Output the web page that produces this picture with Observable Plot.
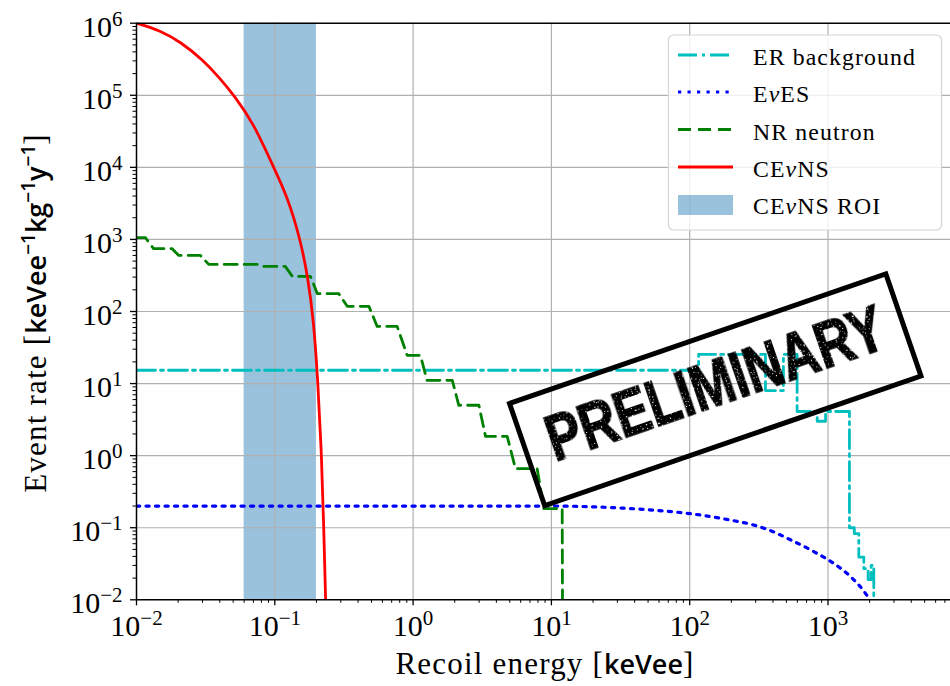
<!DOCTYPE html>
<html>
<head>
<meta charset="utf-8">
<script src="https://cdn.jsdelivr.net/npm/d3@7"></script>
<script src="https://cdn.jsdelivr.net/npm/@observablehq/plot@0.6"></script>
<style>
  html, body { margin: 0; padding: 0; background: #fff; overflow: hidden; }
  #chart svg { display: block; }
</style>
</head>
<body>
<div id="chart"></div>
<script>
// ---- axis ticks -----------------------------------------------------------
const xDecades = [1e-2, 1e-1, 1e0, 1e1, 1e2, 1e3];
const yDecades = [1e-2, 1e-1, 1e0, 1e1, 1e2, 1e3, 1e4, 1e5, 1e6];
const xDomain = [1e-2, 8e3];
const yDomain = [1e-2, 1e6];

// ---- CEνNS region of interest (keVee) --------------------------------------
const roiRange = [0.06, 0.2];

// ---- CEνNS spectrum ---------------------------------------------------------
const cevnsEnergy = [0.010, 0.0149, 0.0208, 0.0302, 0.0404, 0.0506, 0.0702, 0.098, 0.1235, 0.153, 0.173, 0.191, 0.205, 0.218, 0.226, 0.233];
const cevnsRate   = [1.0e6, 7.9e5, 5.5e5, 3.1e5, 1.7e5, 1.0e5, 4.1e4, 1.0e4, 3.9e3, 1.0e3, 307, 75, 10.5, 1.0, 0.1, 0.01];

// ---- EνES spectrum ----------------------------------------------------------
const evesEnergy = [0.01, 1, 10, 20, 55, 100, 200, 275, 363, 535, 800, 1100, 1455, 1800, 2000];
const evesRate   = [0.2, 0.2, 0.2, 0.195, 0.175, 0.157, 0.127, 0.112, 0.095, 0.068, 0.046, 0.032, 0.021, 0.0135, 0.0101];

// ---- ER background, histogram (bin left edges and levels) -------------------
const erEdges  = [0.01, 116, 353, 476, 598, 835, 960, 1429, 1550, 1670, 1816, 1950, 2050, 2143];
const erLevels = [15.3, 25.4, 8.0, 25.4, 4.1, 3.0, 4.1, 0.10, 0.083, 0.039, 0.027, 0.019, 0.03, 0.01];

// ---- NR neutron background, polyline vertices -------------------------------
const nrEnergy = [0.01, 0.0116, 0.0133, 0.0181, 0.0202, 0.029, 0.0333, 0.0766, 0.0832, 0.119, 0.134, 0.181, 0.203, 0.29, 0.334, 0.479, 0.55, 0.767, 0.906, 1.13, 1.26, 1.92, 2.14, 2.99, 3.34, 4.79, 5.5, 7.89, 8.81, 11.97, 12.03];
const nrRate   = [1057, 1057, 743, 743, 600, 600, 450, 450, 422, 422, 307, 307, 177, 177, 118, 118, 62, 62, 24.6, 24.6, 11.1, 11.1, 5.0, 5.0, 1.85, 1.85, 0.66, 0.66, 0.184, 0.184, 0.01];

// ---- legend -----------------------------------------------------------------
const legendLabels = [
  [["ER background", false]],
  [["E", false], ["ν", true], ["ES", false]],
  [["NR neutron", false]],
  [["CE", false], ["ν", true], ["NS", false]],
  [["CE", false], ["ν", true], ["NS ROI", false]]
];

(function draw() {
  const serif = "'Liberation Serif', 'Times New Roman', serif";
  const sans = "'Open Sans', 'DejaVu Sans', sans-serif";
  const colors = {er: "#00bfbf", eves: "#0000ff", nr: "#008000", cevns: "#ff0000", roi: "#1f77b4"};
  const dashes = {er: "19,5,3,5", eves: "3.2,6.3", nr: "13,7"};
  const lineWidth = 2.8;

  const W = 950, H = 686;
  const frameLeft = 136, frameTop = 22.7, frameBottom = 599.3;
  const pxPerDecadeX = 138.3;
  const frameRight = frameLeft + pxPerDecadeX * Math.log10(xDomain[1] / xDomain[0]);

  const rows = (E, R) => E.map((e, i) => ({E: e, R: R[i]}));
  const minorTicks = (decades, max) =>
    decades.flatMap(d => [2, 3, 4, 5, 6, 7, 8, 9].map(k => k * d)).filter(v => v <= max);
  const exponent = d => {
    const e = Math.round(Math.log10(d));
    return e < 0 ? "\u2212" + (-e) : String(e);
  };

  const chart = Plot.plot({
    width: W,
    height: H,
    marginLeft: frameLeft,
    marginRight: 0,
    marginTop: frameTop,
    marginBottom: H - frameBottom,
    style: {fontFamily: serif, background: "#fff", overflow: "hidden", color: "#000"},
    x: {type: "log", domain: xDomain, range: [frameLeft, frameRight]},
    y: {type: "log", domain: yDomain, range: [frameBottom, frameTop]},
    marks: [
      // shaded ROI band
      Plot.rect([roiRange], {x1: d => d[0], x2: d => d[1], fill: colors.roi, fillOpacity: 0.45}),
      // grid
      Plot.ruleX(xDecades.slice(1), {stroke: "#b0b0b0", strokeWidth: 1.2}),
      Plot.ruleY(yDecades.slice(1, -1), {stroke: "#b0b0b0", strokeWidth: 1.2}),
      // spectra
      Plot.line(rows(erEdges, erLevels), {x: "E", y: "R", curve: "step-after", stroke: colors.er, strokeWidth: lineWidth, strokeDasharray: dashes.er, clip: true}),
      Plot.line(rows(evesEnergy, evesRate), {x: "E", y: "R", curve: "monotone-x", stroke: colors.eves, strokeWidth: lineWidth + 0.4, strokeDasharray: dashes.eves, clip: true}),
      Plot.line(rows(nrEnergy, nrRate), {x: "E", y: "R", stroke: colors.nr, strokeWidth: lineWidth, strokeDasharray: dashes.nr, clip: true}),
      Plot.line(rows(cevnsEnergy, cevnsRate), {x: "E", y: "R", curve: "basis", stroke: colors.cevns, strokeWidth: lineWidth, clip: true}),
      // spines
      Plot.ruleY([yDomain[0]], {stroke: "#000", strokeWidth: 1.5}),
      Plot.ruleY([yDomain[1]], {stroke: "#000", strokeWidth: 1.5}),
      Plot.ruleX([xDomain[0]], {stroke: "#000", strokeWidth: 1.5}),
      // ticks
      Plot.axisX(xDecades, {tickSize: 6, strokeWidth: 1.3, tickFormat: () => "", label: null}),
      Plot.axisX(minorTicks(xDecades, xDomain[1]), {tickSize: 3.5, strokeWidth: 1, tickFormat: () => "", label: null}),
      Plot.axisY(yDecades, {tickSize: 6, strokeWidth: 1.3, tickFormat: () => "", label: null}),
      Plot.axisY(minorTicks(yDecades.slice(0, -1), yDomain[1]), {tickSize: 3.5, strokeWidth: 1, tickFormat: () => "", label: null}),
      // tick labels
      Plot.axisX(xDecades, {tickSize: 0, tickPadding: 0, tickFormat: exponent, label: null}),
      Plot.axisY(yDecades, {tickSize: 0, tickPadding: 14, tickFormat: exponent, label: null})
    ]
  });

  document.getElementById("chart").appendChild(chart);
  const svg = d3.select(chart);

  // Tick labels as 10 with a raised exponent
  function powerLabels(selector, baseline) {
    svg.selectAll(selector).each(function () {
      const t = d3.select(this);
      const e = t.text();
      if (!e) return;
      t.text(null)
        .attr("y", baseline)
        .attr("font-size", 30)
        .attr("font-family", serif)
        .attr("fill", "#000");
      t.append("tspan").text("10");
      t.append("tspan").attr("dy", -11).attr("font-size", 21).text(e);
    });
  }
  powerLabels('g[aria-label="x-axis tick label"] text', 36.7);
  powerLabels('g[aria-label="y-axis tick label"] text', 13.5);

  // Axis titles
  const xt = svg.append("text")
    .attr("x", 545).attr("y", 674)
    .attr("text-anchor", "middle")
    .attr("font-family", serif).attr("font-size", 31).attr("letter-spacing", 1.2)
    .attr("fill", "#000");
  xt.append("tspan").text("Recoil energy [");
  xt.append("tspan").attr("font-family", sans).attr("font-weight", 600).attr("font-size", 27).attr("letter-spacing", 0).text("keVee");
  xt.append("tspan").text("]");

  const yt = svg.append("text")
    .attr("transform", "translate(46,313) rotate(-90)")
    .attr("text-anchor", "middle")
    .attr("font-family", serif).attr("font-size", 31).attr("letter-spacing", 1.2)
    .attr("fill", "#000");
  yt.append("tspan").text("Event rate [");
  ["keVee", "kg", "y"].forEach((u, i) => {
    yt.append("tspan").attr("font-family", sans).attr("font-weight", 600).attr("font-size", 27)
      .attr("letter-spacing", 0).attr("dy", i === 0 ? 0 : 11).text(u);
    yt.append("tspan").attr("font-family", sans).attr("font-weight", 600).attr("font-size", 19)
      .attr("letter-spacing", 0).attr("dy", -11).text("\u22121");
  });
  yt.append("tspan").attr("dy", 11).text("]");

  // Legend
  const lg = svg.append("g")
    .attr("font-family", serif).attr("font-size", 23.8).attr("letter-spacing", 1.1)
    .attr("text-anchor", "start").attr("fill", "#000");
  lg.append("rect")
    .attr("x", 668.5).attr("y", 35).attr("width", 273).attr("height", 195).attr("rx", 5)
    .attr("fill", "#fff").attr("fill-opacity", 0.8)
    .attr("stroke", "#d4d4d4").attr("stroke-width", 1.2);
  const legendRows = [
    {stroke: colors.er, dash: dashes.er, w: lineWidth, y: 55},
    {stroke: colors.eves, dash: dashes.eves, w: lineWidth + 0.4, y: 92},
    {stroke: colors.nr, dash: dashes.nr, w: lineWidth, y: 129.5},
    {stroke: colors.cevns, dash: null, w: lineWidth, y: 167},
    {patch: true, y: 205}
  ];
  legendRows.forEach((r, i) => {
    if (r.patch) {
      lg.append("rect").attr("x", 678).attr("y", r.y - 10).attr("width", 55).attr("height", 20)
        .attr("fill", colors.roi).attr("fill-opacity", 0.45);
    } else {
      lg.append("line").attr("x1", 678).attr("x2", 733).attr("y1", r.y).attr("y2", r.y)
        .attr("stroke", r.stroke).attr("stroke-width", r.w)
        .attr("stroke-dasharray", r.dash);
    }
    const t = lg.append("text").attr("x", 753).attr("y", r.y + (r.patch ? 8.5 : 10))
      .attr("text-anchor", "start");
    legendLabels[i].forEach(([s, italic]) => {
      t.append("tspan").attr("font-style", italic ? "italic" : null).text(s);
    });
  });

  // "PRELIMINARY" stamp
  const defs = svg.append("defs");
  const wear = defs.append("filter").attr("id", "inkwear")
    .attr("filterUnits", "userSpaceOnUse")
    .attr("x", -260).attr("y", -110).attr("width", 520).attr("height", 220);
  wear.append("feTurbulence").attr("type", "fractalNoise").attr("baseFrequency", 0.6)
    .attr("numOctaves", 2).attr("seed", 7).attr("result", "noise");
  wear.append("feColorMatrix").attr("in", "noise").attr("type", "matrix")
    .attr("values", "0 0 0 0 0  0 0 0 0 0  0 0 0 0 0  0 0 0 -12 9").attr("result", "mask");
  wear.append("feComposite").attr("in", "SourceGraphic").attr("in2", "mask").attr("operator", "in");

  const stamp = svg.append("g").attr("transform", "translate(715.25,389.75) rotate(-19)");
  stamp.append("rect")
    .attr("x", -199).attr("y", -54).attr("width", 398).attr("height", 108)
    .attr("fill", "none").attr("stroke", "#000").attr("stroke-width", 5);
  stamp.append("text")
    .attr("x", 2).attr("y", 16)
    .attr("text-anchor", "middle")
    .attr("font-family", "'Liberation Sans', Arial, sans-serif")
    .attr("font-weight", "bold").attr("font-size", 64)
    .attr("textLength", 354).attr("lengthAdjust", "spacingAndGlyphs")
    .attr("fill", "#000").attr("stroke", "#000").attr("stroke-width", 1.5)
    .attr("filter", "url(#inkwear)")
    .text("PRELIMINARY");
})();
</script>
</body>
</html>
